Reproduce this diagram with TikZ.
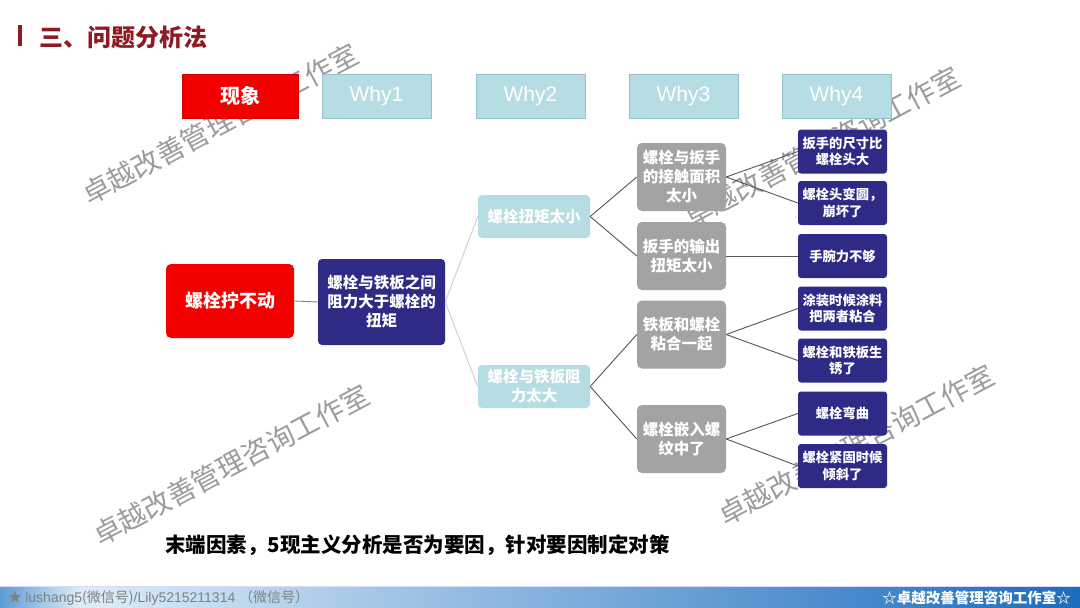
\documentclass[tikz,border=0pt]{standalone}
\usepackage{fontspec}
\setmainfont{Liberation Sans}
\newfontfamily\cjk{Noto Sans CJK SC}
\usetikzlibrary{positioning,shadings}
\definecolor{hred}{HTML}{F40000}
\definecolor{navy}{HTML}{2D2B86}
\definecolor{lcyan}{HTML}{B5DDE3}
\definecolor{cyanb}{HTML}{93C2CA}
\definecolor{gbox}{HTML}{A3A3A3}
\definecolor{tred}{HTML}{8E1B24}
\definecolor{lnk}{HTML}{555555}
\definecolor{lnklight}{HTML}{D8C8CB}
\definecolor{wm}{HTML}{9C9C9C}
\definecolor{fblueA}{HTML}{5E9BD6}
\definecolor{fblueB}{HTML}{DDEDF7}
\definecolor{fblueC}{HTML}{1C6CBE}
\tikzset{
  bf/.style 2 args={font=\cjk\bfseries\fontsize{#1}{#2}\selectfont},
  hdr/.style={draw=cyanb, fill=lcyan, text=white, minimum width=109pt, minimum height=44pt, font=\fontsize{21}{24}\selectfont, inner sep=0pt},
  redbox/.style={fill=hred, text=white, rounded corners=5pt, bf={18}{22}, inner sep=0pt},
  navybox/.style={fill=navy, text=white, rounded corners=4pt, bf={15.5}{19}, align=center, inner sep=0pt},
  cyanbox/.style={fill=lcyan, text=white, rounded corners=4pt, bf={15.5}{19}, align=center, inner sep=0pt, minimum width=112pt, minimum height=43pt},
  graybox/.style={fill=gbox, text=white, rounded corners=5pt, bf={15.5}{19}, align=center, inner sep=0pt, minimum width=89pt, minimum height=68pt},
  leaf/.style={fill=navy, text=white, rounded corners=3pt, bf={13.3}{16.5}, align=center, inner sep=0pt, minimum width=89pt, minimum height=44pt},
  conn/.style={draw=lnk, line width=0.9pt},
  connl/.style={draw=lnklight, line width=0.9pt},
  wmark/.style={text=wm, rotate=28, font=\cjk\fontsize{28}{32}\selectfont},
}
\begin{document}
\begin{tikzpicture}[x=1pt,y=-1pt]
\useasboundingbox[fill=white] (0,0) rectangle (1080,608);
% watermarks (behind everything)
\node[wmark] (wm1) at (220,124) {卓越改善管理咨询工作室};
\node[wmark] (wm2) at (822,147) {卓越改善管理咨询工作室};
\node[wmark] (wm3) at (231,465) {卓越改善管理咨询工作室};
\node[wmark] (wm4) at (856,445) {卓越改善管理咨询工作室};
% title
\fill[tred] (18,25) rectangle (22,46);
\node[anchor=west, text=tred, bf={24}{28}, inner sep=0pt] (title) at (39,37) {三、问题分析法};
% header row
\node[fill=hred, draw=hred!85!black, text=white, minimum width=116pt, minimum height=44pt, inner sep=0pt, bf={20}{24}] (xx) at (240,96) {现象};
\node[hdr] (w1) at (376.5,96) {Why1};
\node[hdr] (w2) at (530.5,96) {Why2};
\node[hdr] (w3) at (683.5,96) {Why3};
\node[hdr] (w4) at (836.5,96) {Why4};
% main nodes
\node[redbox, minimum width=128pt, minimum height=74pt] (root) at (230,301) {螺栓拧不动};
\node[navybox, minimum width=127pt, minimum height=86pt] (n1) at (381.5,302) {螺栓与铁板之间\\阻力大于螺栓的\\扭矩};
\node[cyanbox] (c1) at (534,216.5) {螺栓扭矩太小};
\node[cyanbox] (c2) at (534,386.5) {螺栓与铁板阻\\力太大};
\node[graybox] (g1) at (681.5,177) {螺栓与扳手\\的接触面积\\太小};
\node[graybox] (g2) at (681.5,256) {扳手的输出\\扭矩太小};
\node[graybox] (g3) at (681.5,334.5) {铁板和螺栓\\粘合一起};
\node[graybox] (g4) at (681.5,439) {螺栓嵌入螺\\纹中了};
\node[leaf] (l1) at (842.5,151.5) {扳手的尺寸比\\螺栓头大};
\node[leaf] (l2) at (842.5,203) {螺栓头变圆，\\崩坏了};
\node[leaf] (l3) at (842.5,256) {手腕力不够};
\node[leaf] (l4) at (842.5,308.5) {涂装时候涂料\\把两者粘合};
\node[leaf] (l5) at (842.5,360.5) {螺栓和铁板生\\锈了};
\node[leaf] (l6) at (842.5,413.5) {螺栓弯曲};
\node[leaf] (l7) at (842.5,466) {螺栓紧固时候\\倾斜了};
% connectors
\draw[draw=gray, line width=0.9pt] (root.east) -- (n1.west);
\draw[connl] (n1.east) -- (c1.west);
\draw[connl] (n1.east) -- (c2.west);
\draw[conn] (c1.east) -- (g1.west);
\draw[conn] (c1.east) -- (g2.west);
\draw[conn] (c2.east) -- (g3.west);
\draw[conn] (c2.east) -- (g4.west);
\draw[conn] (g1.east) -- (l1.west);
\draw[conn] (g1.east) -- (l2.west);
\draw[conn] (g2.east) -- (l3.west);
\draw[conn] (g3.east) -- (l4.west);
\draw[conn] (g3.east) -- (l5.west);
\draw[conn] (g4.east) -- (l6.west);
\draw[conn] (g4.east) -- (l7.west);
% bottom note
\node[anchor=west, bf={20.5}{24}, inner sep=0pt] (note) at (165,545) {末端因素，5现主义分析是否为要因，针对要因制定对策};
% footer
\shade[left color=fblueA, right color=fblueB] (0,586) rectangle (80,608);
\shade[left color=fblueB, right color=fblueC] (80,586) rectangle (1080,608);
\draw[white!85!blue, line width=0.8pt] (0,586) -- (1080,586);
\node[anchor=west, text=gray, font=\cjk\fontsize{14}{16}\selectfont, inner sep=0pt] (fl) at (8,598) {★ \fontspec{Liberation Sans}lushang5\cjk(微信号)\fontspec{Liberation Sans}/Lily5215211314 \cjk（微信号）};
\node[anchor=east, text=white, bf={14.5}{17}, inner sep=0pt] (fr) at (1071,598) {☆卓越改善管理咨询工作室☆};
\end{tikzpicture}
\end{document}
